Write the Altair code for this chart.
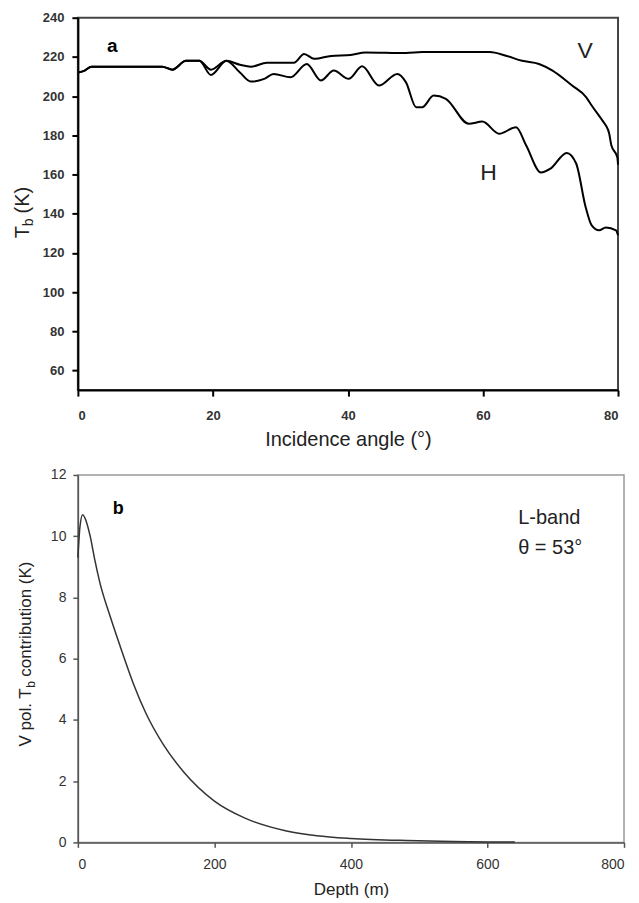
import altair as alt
import pandas as pd

# ---- Panel a: brightness temperature vs incidence angle ----
angle_v = [0, 1, 2, 5, 8, 10, 12.5, 14, 16, 18, 19.7, 22, 24, 25.6, 28, 32, 33.5, 35,
           37.5, 40.4, 42.6, 48.6, 51, 61, 63.4, 65.8, 68.3, 70.3, 73.2, 75.3, 76.1,
           77.7, 78.2, 78.7, 79, 79.9, 80]
tb_v = [212, 213, 215, 215, 215, 215, 215, 213.5, 218, 218, 213.5, 218, 216, 215, 217,
        217, 221.5, 219, 220.5, 221, 222.3, 222, 222.5, 222.5, 220.6, 218, 216.4, 213,
        205.4, 199.4, 195.2, 187.5, 185, 180.8, 175, 168.8, 165]

angle_h = [0, 1, 2, 5, 8, 10, 12.5, 14, 16, 18, 19.7, 22, 24, 25.6, 27.6, 29, 31.5,
           33.9, 36, 37.9, 40.1, 42.1, 44.6, 47.3, 48.6, 50.1, 51, 52.7, 54.5, 57.9,
           59.9, 62.4, 64.9, 66.4, 68.6, 70, 72.4, 73.8, 75.2, 76.1, 77.2, 78.2, 79.7, 80]
tb_h = [212, 213, 215, 215, 215, 215, 215, 213.5, 218, 218, 210.8, 218, 212, 207.4,
        208.8, 211.3, 209.6, 216.4, 208, 213, 208.8, 215.2, 205.4, 211.3, 207, 194.3,
        194.3, 200.3, 198.6, 185.9, 187, 180.8, 184.1, 174.8, 161, 163, 171, 165.6,
        143.4, 134, 131.5, 133, 131.5, 129]

# ---- Panel b: V-pol Tb contribution vs depth ----
depth = [0, 3, 7, 12, 18, 25, 32, 47, 62, 81, 100, 125, 155, 200, 244, 304, 350, 400,
         482, 550, 600, 640]
contrib = [9.3, 10.3, 10.7, 10.5, 10.0, 9.2, 8.5, 7.4, 6.4, 5.2, 4.2, 3.2, 2.3, 1.35,
           0.8, 0.38, 0.22, 0.13, 0.06, 0.03, 0.015, 0.01]

FONT = "Liberation Sans"
TXT = "#222222"

df_a = pd.concat([
    pd.DataFrame({"angle": angle_v, "tb": tb_v, "pol": "V"}),
    pd.DataFrame({"angle": angle_h, "tb": tb_h, "pol": "H"}),
])
df_b = pd.DataFrame({"depth": depth, "contrib": contrib})

xa = alt.X("angle:Q", scale=alt.Scale(domain=[0, 80], nice=False),
           axis=alt.Axis(values=[0, 20, 40, 60, 80], title="Incidence angle (°)",
                         grid=False, domainColor="black", domainWidth=2,
                         tickColor="black", tickWidth=2, tickSize=6,
                         labelFont=FONT, labelFontSize=13, labelFontWeight="bold",
                         labelColor="#333333", labelPadding=13,
                         titleFont=FONT, titleFontSize=20, titleFontWeight="normal",
                         titleColor=TXT, titlePadding=7))
ya = alt.Y("tb:Q", scale=alt.Scale(domain=[50, 240], nice=False, zero=False),
           axis=alt.Axis(values=list(range(60, 241, 20)), title="",
                         grid=False, domainColor="black", domainWidth=2,
                         tickColor="black", tickWidth=2, tickSize=6,
                         labelFont=FONT, labelFontSize=13, labelFontWeight="bold",
                         labelColor="#333333", labelPadding=8))

lines_a = alt.Chart(df_a).mark_line(color="black", strokeWidth=2,
                                    interpolate="monotone").encode(
    x=xa, y=ya, detail="pol:N")

lab_a = pd.DataFrame({"angle": [74.0, 59.6], "tb": [223, 161], "t": ["V", "H"]})
pol_text = alt.Chart(lab_a).mark_text(font=FONT, fontSize=23, color=TXT,
                                      baseline="middle", align="left").encode(
    x="angle:Q", y="tb:Q", text="t:N")
a_text = alt.Chart(pd.DataFrame({"angle": [4.3], "tb": [225.5], "t": ["a"]})).mark_text(
    font=FONT, fontSize=19, fontWeight="bold", color="black", baseline="middle",
    align="left").encode(x="angle:Q", y="tb:Q", text="t:N")

ytA1 = alt.Chart().mark_text(text="T", angle=270, align="left", baseline="alphabetic",
                             font=FONT, fontSize=20, color=TXT).encode(
    x=alt.value(-49), y=alt.value(221))
ytA2 = alt.Chart().mark_text(text="b", angle=270, align="left", baseline="alphabetic",
                             font=FONT, fontSize=14, color=TXT).encode(
    x=alt.value(-45), y=alt.value(209))
ytA3 = alt.Chart().mark_text(text="(K)", angle=270, align="left", baseline="alphabetic",
                             font=FONT, fontSize=20, color=TXT).encode(
    x=alt.value(-49), y=alt.value(196))

top = alt.layer(lines_a, pol_text, a_text, ytA1, ytA2, ytA3).properties(
    width=541, height=373,
    view=alt.ViewBackground(stroke="#444444", strokeWidth=2))

xb = alt.X("depth:Q", scale=alt.Scale(domain=[0, 800], nice=False),
           axis=alt.Axis(values=[0, 200, 400, 600, 800], title="Depth (m)",
                         grid=False, domainColor="#555555", domainWidth=1.5,
                         tickColor="#555555", tickWidth=1.5, tickSize=5,
                         labelFont=FONT, labelFontSize=14, labelColor="#333333",
                         labelPadding=10,
                         titleFont=FONT, titleFontSize=17, titleFontWeight="normal",
                         titleColor=TXT, titlePadding=10))
yb = alt.Y("contrib:Q", scale=alt.Scale(domain=[0, 12], nice=False),
           axis=alt.Axis(values=[0, 2, 4, 6, 8, 10, 12], title="",
                         grid=False, domainColor="#555555", domainWidth=1.5,
                         tickColor="#555555", tickWidth=1.5, tickSize=5,
                         labelFont=FONT, labelFontSize=14, labelColor="#333333",
                         labelPadding=7))

curve_b = alt.Chart(df_b).mark_line(color="#333333", strokeWidth=1.5,
                                    interpolate="monotone").encode(x=xb, y=yb)

b_text = alt.Chart(pd.DataFrame({"depth": [51], "contrib": [10.9], "t": ["b"]})).mark_text(
    font=FONT, fontSize=18, fontWeight="bold", color="black", baseline="middle",
    align="left").encode(x="depth:Q", y="contrib:Q", text="t:N")
band_text = alt.Chart(pd.DataFrame({"depth": [645, 645], "contrib": [10.6, 9.6],
                                    "t": ["L-band", "θ = 53°"]})).mark_text(
    font=FONT, fontSize=20, color=TXT, baseline="middle", align="left").encode(
    x="depth:Q", y="contrib:Q", text="t:N")

ytB1 = alt.Chart().mark_text(text="V pol. T", angle=270, align="left",
                             baseline="alphabetic", font=FONT, fontSize=17,
                             color=TXT).encode(x=alt.value(-47), y=alt.value(272))
ytB2 = alt.Chart().mark_text(text="b", angle=270, align="left",
                             baseline="alphabetic", font=FONT, fontSize=12,
                             color=TXT).encode(x=alt.value(-43), y=alt.value(213))
ytB3 = alt.Chart().mark_text(text="contribution (K)", angle=270, align="left",
                             baseline="alphabetic", font=FONT, fontSize=17,
                             color=TXT).encode(x=alt.value(-47), y=alt.value(202))

bottom = alt.layer(curve_b, b_text, band_text, ytB1, ytB2, ytB3).properties(
    width=547, height=368,
    view=alt.ViewBackground(stroke="#999999", strokeWidth=1.5))

chart = alt.vconcat(top, bottom, spacing=17).properties(
    padding={"left": 4, "top": 2, "right": 5, "bottom": 2},
    background="white")

chart.save("out.html", embed_options={"renderer": "svg", "actions": False})
